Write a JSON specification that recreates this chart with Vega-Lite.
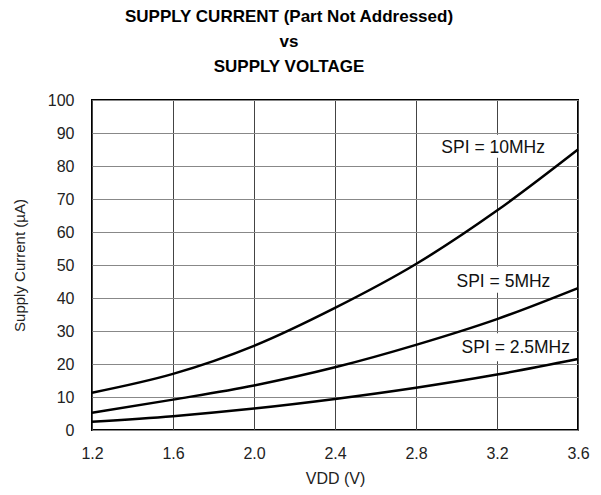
{
  "$schema": "https://vega.github.io/schema/vega-lite/v6.json",
  "width": 486,
  "height": 330,
  "autosize": {"type": "none"},
  "padding": {"left": 92, "top": 100, "right": 23, "bottom": 65},
  "background": "white",
  "config": {
    "font": "Liberation Sans",
    "view": {"stroke": "black", "strokeWidth": 2}
  },
  "title": {
    "text": ["SUPPLY CURRENT (Part Not Addressed)", "vs", "SUPPLY VOLTAGE"],
    "font": "Liberation Sans",
    "fontSize": 17,
    "fontWeight": "bold",
    "color": "black",
    "anchor": "middle",
    "lineHeight": 25,
    "offset": 16,
    "dx": -46
  },
  "datasets": {
    "curves": [
      {"series": "10MHz", "vdd": 1.2, "ua": 11.3},
      {"series": "10MHz", "vdd": 1.6, "ua": 17.0},
      {"series": "10MHz", "vdd": 2.0, "ua": 25.5},
      {"series": "10MHz", "vdd": 2.4, "ua": 37.0},
      {"series": "10MHz", "vdd": 2.8, "ua": 50.3},
      {"series": "10MHz", "vdd": 3.2, "ua": 66.5},
      {"series": "10MHz", "vdd": 3.6, "ua": 85.0},
      {"series": "5MHz", "vdd": 1.2, "ua": 5.2},
      {"series": "5MHz", "vdd": 1.6, "ua": 9.2},
      {"series": "5MHz", "vdd": 2.0, "ua": 13.5},
      {"series": "5MHz", "vdd": 2.4, "ua": 19.0},
      {"series": "5MHz", "vdd": 2.8, "ua": 25.8},
      {"series": "5MHz", "vdd": 3.2, "ua": 33.6},
      {"series": "5MHz", "vdd": 3.6, "ua": 43.0},
      {"series": "2.5MHz", "vdd": 1.2, "ua": 2.5},
      {"series": "2.5MHz", "vdd": 1.6, "ua": 4.2},
      {"series": "2.5MHz", "vdd": 2.0, "ua": 6.5},
      {"series": "2.5MHz", "vdd": 2.4, "ua": 9.4},
      {"series": "2.5MHz", "vdd": 2.8, "ua": 12.8},
      {"series": "2.5MHz", "vdd": 3.2, "ua": 16.8},
      {"series": "2.5MHz", "vdd": 3.6, "ua": 21.5}
    ],
    "labels": [
      {"label": "SPI = 10MHz", "vdd": 2.925, "ua": 85.5, "vdd2": 3.47, "ua_lo": 82.5, "ua_hi": 89.5, "vdd_lo": 2.91},
      {"label": "SPI = 5MHz", "vdd": 3.0, "ua": 45.0, "vdd2": 3.49, "ua_lo": 41.6, "ua_hi": 49.5, "vdd_lo": 2.99},
      {"label": "SPI = 2.5MHz", "vdd": 3.025, "ua": 24.7, "vdd2": 3.59, "ua_lo": 20.8, "ua_hi": 29.3, "vdd_lo": 3.01}
    ]
  },
  "encoding": {
    "x": {
      "field": "vdd",
      "type": "quantitative",
      "scale": {"domain": [1.2, 3.6], "nice": false, "zero": false},
      "axis": {
        "values": [1.2, 1.6, 2.0, 2.4, 2.8, 3.2, 3.6],
        "format": ".1f",
        "title": "VDD (V)",
        "grid": true,
        "gridColor": "#444444",
        "gridWidth": 1,
        "gridOpacity": 1,
        "domain": false,
        "ticks": false,
        "labelFlush": false,
        "labelFontSize": 16,
        "labelColor": "#222222",
        "labelPadding": 15,
        "titleFontSize": 16,
        "titleFontWeight": "normal",
        "titleColor": "#222222",
        "titlePadding": 9
      }
    },
    "y": {
      "field": "ua",
      "type": "quantitative",
      "scale": {"domain": [0, 100], "nice": false},
      "axis": {
        "values": [0, 10, 20, 30, 40, 50, 60, 70, 80, 90, 100],
        "title": "Supply Current (µA)",
        "grid": true,
        "gridColor": "#888888",
        "gridWidth": 1,
        "gridOpacity": 1,
        "domain": false,
        "ticks": false,
        "labelFlush": false,
        "labelFontSize": 16,
        "labelColor": "#222222",
        "labelPadding": 18,
        "titleFontSize": 15,
        "titleFontWeight": "normal",
        "titleColor": "#222222",
        "titlePadding": 20
      }
    }
  },
  "layer": [
    {
      "data": {"name": "labels"},
      "mark": {"type": "rect", "fill": "white", "stroke": null},
      "encoding": {
        "x": {"field": "vdd_lo", "type": "quantitative"},
        "x2": {"field": "vdd2"},
        "y": {"field": "ua_lo", "type": "quantitative"},
        "y2": {"field": "ua_hi"}
      }
    },
    {
      "data": {"name": "curves"},
      "mark": {"type": "line", "interpolate": "monotone", "color": "black", "strokeWidth": 2.5},
      "encoding": {
        "detail": {"field": "series", "type": "nominal"}
      }
    },
    {
      "data": {"name": "labels"},
      "mark": {"type": "text", "align": "left", "baseline": "middle", "fontSize": 17.5, "color": "#111111"},
      "encoding": {
        "text": {"field": "label", "type": "nominal"}
      }
    }
  ]
}
